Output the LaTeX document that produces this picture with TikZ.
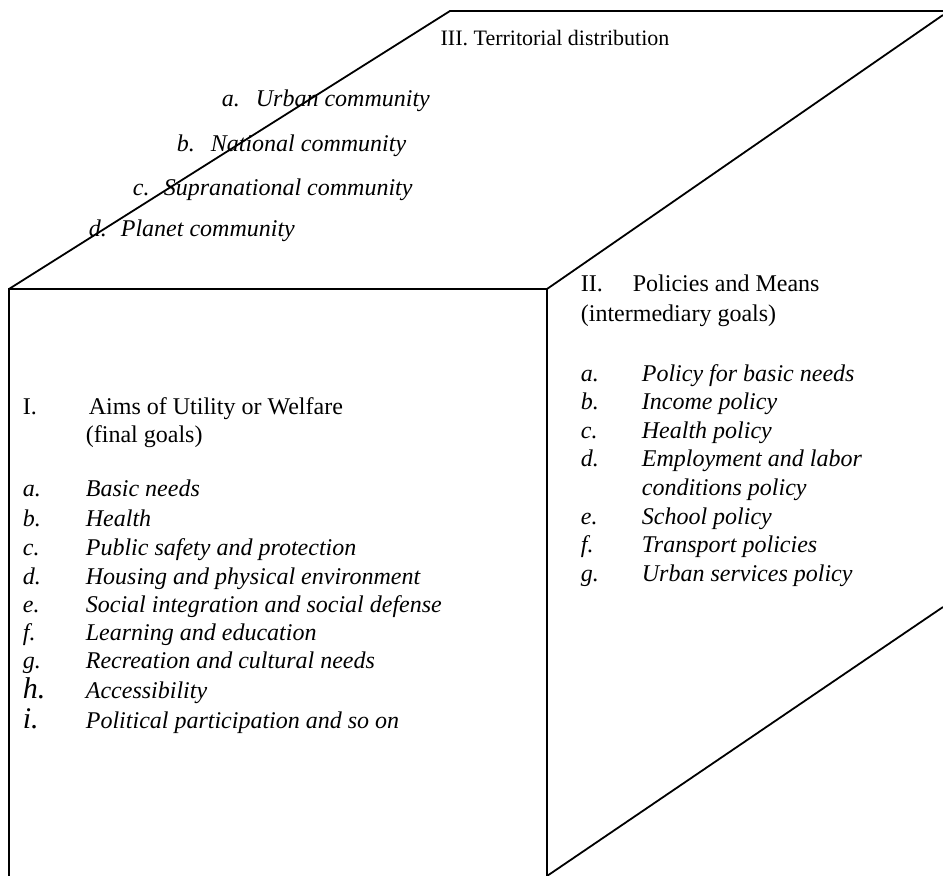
\documentclass[tikz,border=0pt]{standalone}
\usepackage{fontspec}
\setmainfont{Liberation Serif}
\newcommand{\itm}[3][63pt]{\makebox[#1][l]{#2}#3}
\tikzset{
  txt/.style={anchor=base west,inner sep=0pt,font=\fontsize{24}{28}\selectfont},
  itxt/.style={txt,font=\fontsize{24}{28}\selectfont\itshape},
  big/.style={font=\fontsize{30}{30}\selectfont\itshape}
}
\begin{document}
\begin{tikzpicture}[x=1pt,y=1pt,line width=1.8pt]
\useasboundingbox (0,0) rectangle (943,876);
% box edges
\draw (9,0) -- (9,587) -- (547,587) -- (547,0);
\draw (9,587) -- (450,865) -- (943,865);
\draw (547,587) -- (943,861);
\draw (547,0) -- (943,269);
% top face
\node[txt,anchor=base,font=\fontsize{22}{26}\selectfont] (tIII) at (555,830) {III. Territorial distribution};
\node[itxt] (ta) at (221,769) {\itm[34pt]{a.}{Urban community}};
\node[itxt] (tb) at (176,724) {\itm[34pt]{b.}{National community}};
\node[itxt] (tc) at (132,680) {\itm[31pt]{c.}{Supranational community}};
\node[itxt] (td) at (88,639) {\itm[32pt]{d.}{Planet community}};
% front face
\node[txt] (fI) at (22,461) {\itm[66pt]{I.}{Aims of Utility or Welfare}};
\node[txt] (fIb) at (85,433) {(final goals)};
\node[itxt] (fa) at (22,379) {\itm{a.}{Basic needs}};
\node[itxt] (fb) at (22,349) {\itm{b.}{Health}};
\node[itxt] (fc) at (22,320) {\itm{c.}{Public safety and protection}};
\node[itxt] (fd) at (22,291) {\itm{d.}{Housing and physical environment}};
\node[itxt] (fe) at (22,263) {\itm{e.}{Social integration and social defense}};
\node[itxt] (ff) at (22,235) {\itm{f.}{Learning and education}};
\node[itxt] (fg) at (22,207) {\itm{g.}{Recreation and cultural needs}};
\node[itxt] (fh) at (22,177) {\itm{{\fontsize{30}{30}\selectfont h.}}{Accessibility}};
\node[itxt] (fi) at (22,147) {\itm{{\fontsize{30}{30}\selectfont i.}}{Political participation and so on}};
% side face
\node[txt] (sII) at (580,584) {\itm[52pt]{II.}{Policies and Means}};
\node[txt] (sIIb) at (580,554) {(intermediary goals)};
\node[itxt] (sa) at (580,494) {\itm[61pt]{a.}{Policy for basic needs}};
\node[itxt] (sb) at (580,466) {\itm[61pt]{b.}{Income policy}};
\node[itxt] (sc) at (580,437) {\itm[61pt]{c.}{Health policy}};
\node[itxt] (sd) at (580,409) {\itm[61pt]{d.}{Employment and labor}};
\node[itxt] (sd2) at (641,380) {conditions policy};
\node[itxt] (se) at (580,351) {\itm[61pt]{e.}{School policy}};
\node[itxt] (sf) at (580,323) {\itm[61pt]{f.}{Transport policies}};
\node[itxt] (sg) at (580,294) {\itm[61pt]{g.}{Urban services policy}};
\end{tikzpicture}
\end{document}
